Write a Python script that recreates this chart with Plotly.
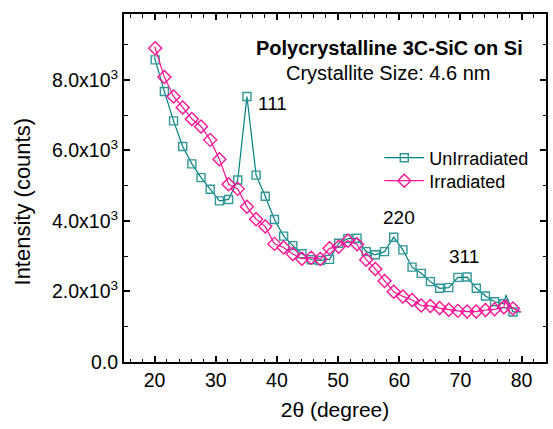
import plotly.graph_objects as go

# ---- data ----
marker_x = [20.1, 21.6, 23.1, 24.6, 26.1, 27.6, 29.1, 30.6, 32.1, 33.6,
            35.1, 36.6, 38.1, 39.6, 41.1, 42.6, 44.1, 45.6, 47.1, 48.6,
            50.1, 51.6, 53.1, 54.6, 56.1, 57.6, 59.1, 60.6, 62.1, 63.6,
            65.1, 66.6, 68.1, 69.6, 71.1, 72.6, 74.1, 75.6, 77.1, 78.6]

unirr_y = [8570, 7670, 6840, 6110, 5620, 5230, 4900, 4570, 4610, 5160,
           7530, 5300, 4700, 4040, 3570, 3300, 3070, 2900, 2880, 2910,
           3370, 3500, 3510, 3130, 3040, 3130, 3540, 3180, 2690, 2515,
           2280, 2090, 2110, 2400, 2410, 2090, 1870, 1710, 1650, 1420]

irr_y = [8900, 8080, 7530, 7220, 6890, 6680, 6300, 5750, 5040, 4910,
         4400, 4050, 3840, 3350, 3250, 3060, 2930, 2960, 2920, 3225,
         3270, 3440, 3340, 2900, 2640, 2300, 1990, 1860, 1760, 1600,
         1590, 1530, 1480, 1450, 1430, 1430, 1475, 1495, 1550, 1520]

# extra line-only points (scan start, spikes, scan end)
unirr_extra_x = [20.0, 77.45, 79.9]
unirr_extra_y = [8650, 1900, 1420]
irr_extra_x = [20.0, 77.4, 79.9]
irr_extra_y = [8950, 1760, 1420]

series_names = ["UnIrradiated", "Irradiated"]
peak_labels = ["111", "220", "311"]
peak_label_x = [36.6, 60.0, 70.6]
peak_label_y = [7320, 4085, 2980]

y_tickvals = [0, 2000, 4000, 6000, 8000]
y_ticktext = ["0.0", "2.0x10<sup>3</sup>", "4.0x10<sup>3</sup>",
              "6.0x10<sup>3</sup>", "8.0x10<sup>3</sup>"]
x_tickvals = [20, 30, 40, 50, 60, 70, 80]

TEAL_LINE = "#008080"
TEAL_MARK = "#309898"
PINK = "#FF1493"
FONT = "Liberation Sans, Arial, sans-serif"


def merged(xm, ym, xe, ye):
    pts = sorted(list(zip(xm, ym)) + list(zip(xe, ye)))
    return [p[0] for p in pts], [p[1] for p in pts]


fig = go.Figure()

for name, ys, ex, ey, lc, mc, sym, ms, lg in [
    (series_names[0], unirr_y, unirr_extra_x, unirr_extra_y, TEAL_LINE, TEAL_MARK, "square-open", 8, "legend"),
    (series_names[1], irr_y, irr_extra_x, irr_extra_y, PINK, PINK, "diamond-open", 10, "legend2"),
]:
    lx, ly = merged(marker_x, ys, ex, ey)
    fig.add_trace(go.Scatter(x=lx, y=ly, mode="lines", line=dict(color=lc, width=1.2),
                             showlegend=False, hoverinfo="skip"))
    fig.add_trace(go.Scatter(x=marker_x, y=ys, mode="markers",
                             marker=dict(symbol=sym, size=ms, color=mc, line=dict(color=mc, width=1.4)),
                             showlegend=False))
    fig.add_trace(go.Scatter(x=[None], y=[None], mode="lines+markers", name=name, legend=lg,
                             line=dict(color=lc, width=1.2),
                             marker=dict(symbol=sym, size=ms, color=mc, line=dict(color=mc, width=1.4))))

for t, x, y in zip(peak_labels, peak_label_x, peak_label_y):
    fig.add_annotation(x=x, y=y, text=t, showarrow=False, xanchor="left" if t == "111" else "center",
                       font=dict(size=19, color="black", family=FONT))

fig.add_annotation(xref="paper", yref="paper", x=0.63, y=0.902, xanchor="center", yanchor="middle",
                   text="<b>Polycrystalline 3C-SiC on Si</b>", showarrow=False,
                   font=dict(size=20, color="black", family=FONT))
fig.add_annotation(xref="paper", yref="paper", x=0.627, y=0.830, xanchor="center", yanchor="middle",
                   text="Crystallite Size: 4.6 nm", showarrow=False,
                   font=dict(size=20, color="black", family=FONT))
# y-axis title (placed as in the reference, slightly below the plot centre)
fig.add_annotation(xref="paper", yref="paper", x=-0.2406, y=0.4626, xanchor="center", yanchor="middle",
                   text="Intensity (counts)", textangle=-90, showarrow=False,
                   font=dict(size=22, color="black", family=FONT))

axis_common = dict(showline=True, linecolor="black", linewidth=2, mirror="ticks",
                   ticks="inside", ticklen=6, tickwidth=1.5, tickcolor="black",
                   showgrid=False, zeroline=False,
                   tickfont=dict(size=19.5, color="black", family=FONT))

fig.update_xaxes(range=[15, 84], tickvals=x_tickvals,
                 minor=dict(dtick=2, tick0=0, ticks="inside", ticklen=3.5, tickwidth=1.2, tickcolor="black"),
                 title=dict(text="2θ (degree)", font=dict(size=21, color="black", family=FONT), standoff=12),
                 **axis_common)
fig.update_yaxes(range=[0, 9870], tickvals=y_tickvals, ticktext=y_ticktext,
                 minor=dict(dtick=1000, tick0=0, ticks="inside", ticklen=3.5, tickwidth=1.2, tickcolor="black"),
                 **axis_common)

leg_common = dict(xanchor="left", yanchor="middle", bgcolor="rgba(0,0,0,0)",
                  font=dict(size=18, color="black", family=FONT), itemwidth=40)
fig.update_layout(width=553, height=429, margin=dict(l=124, r=5, t=14, b=67),
                  plot_bgcolor="white", paper_bgcolor="white",
                  font=dict(family=FONT, color="black"),
                  legend=dict(x=0.605, y=(362 - 158) / 348, **leg_common),
                  legend2=dict(x=0.605, y=(362 - 181) / 348, **leg_common))

fig.write_html("out.html")
